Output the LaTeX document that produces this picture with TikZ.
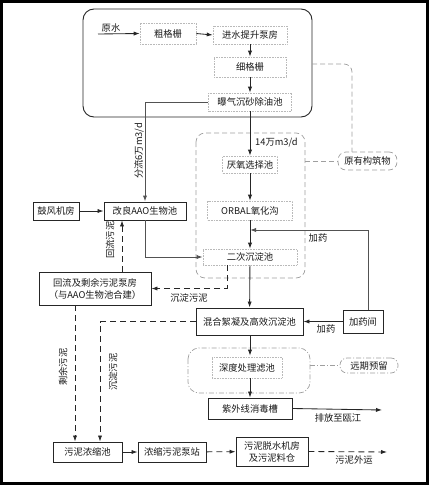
\documentclass[tikz,border=0pt]{standalone}
\usepackage{fontspec}
\newfontfamily\cjk{Noto Sans CJK SC}
\usetikzlibrary{arrows.meta,calc}
\begin{document}
\begin{tikzpicture}[x=1pt,y=-1pt,
  every node/.style={font=\cjk\fontsize{9.3}{12}\selectfont, inner sep=0pt, text=black!90},
  dotbox/.style={draw=gray!55, densely dotted, line width=0.6pt},
  solidbox/.style={draw=black!85, line width=0.9pt},
  ln/.style={line width=0.85pt, draw=black!85},
  gln/.style={line width=1pt, draw=black!68},
  arr/.style={ln, -{Latex[length=6pt,width=4.2pt]}},
  garr/.style={gln, -{Latex[length=6pt,width=4.2pt]}},
  dsh/.style={dash pattern=on 6pt off 4pt},
  region/.style={draw=gray!75, line width=0.7pt, dash pattern=on 5pt off 3pt},
  dotdash/.style={draw=gray!75, line width=0.7pt, dash pattern=on 5pt off 2pt on 1pt off 2pt},
  lbl/.style={font=\cjk\fontsize{9.3}{12}\selectfont}]
\useasboundingbox (0,0) rectangle (429,485);
\draw[line width=2.6pt, black] (1.3,1.3) rectangle (427.7,483.7);

% top block
\draw[line width=0.9pt, black!85, rounded corners=11pt] (83,9) rectangle (312,117);
% regions
\draw[region, rounded corners=9pt] (196,133) rectangle (305,278);
\draw[dotdash, rounded corners=11pt] (188,348) rectangle (310,393);

% nodes
\coordinate (src) at (98,34);
\node[lbl] (yuanshui) at (111,27.5) {原水};
\node[dotbox, minimum width=56pt, minimum height=21pt] (cgs) at (168,33.5) {粗格栅};
\node[dotbox, minimum width=74pt, minimum height=18pt] (jsts) at (250,35) {进水提升泵房};
\node[dotbox, minimum width=72pt, minimum height=20pt] (xgs) at (250,67) {细格栅};
\node[dotbox, minimum width=83pt, minimum height=18pt] (bqcs) at (250,102) {曝气沉砂除油池};
\node[dotbox, minimum width=55pt, minimum height=17pt] (yyxz) at (250,164.5) {厌氧选择池};
\node[dotbox, minimum width=85pt, minimum height=19pt] (orbal) at (250,210.5) {ORBAL氧化沟};
\node[dotbox, minimum width=94pt, minimum height=16pt] (ecc) at (250,257) {二次沉淀池};
\node[solidbox, minimum width=107pt, minimum height=27pt] (hhxn) at (249.5,321.5) {混合絮凝及高效沉淀池};
\node[solidbox, minimum width=40pt, minimum height=23pt] (jyj) at (363,321.5) {加药间};
\node[dotbox, minimum width=70pt, minimum height=21pt] (sdcl) at (247,367.5) {深度处理滤池};
\node[solidbox, minimum width=84pt, minimum height=21pt] (zwx) at (250,408.5) {紫外线消毒槽};
\node[solidbox, minimum width=82pt, minimum height=18pt] (aao) at (145,211) {改良AAO生物池};
\node[solidbox, minimum width=46pt, minimum height=18pt] (gfjf) at (56,211) {鼓风机房};
\node[solidbox, minimum width=112pt, minimum height=33pt, align=center] (hl) at (95,288.5) {回流及剩余污泥泵房\\（与AAO生物池合建）};
\node[solidbox, minimum width=69pt, minimum height=20pt] (wnns) at (87.5,452) {污泥浓缩池};
\node[solidbox, minimum width=68pt, minimum height=20pt] (nsbz) at (172,452) {浓缩污泥泵站};
\node[solidbox, minimum width=72pt, minimum height=29pt, align=center] (tsjf) at (272,451.5) {污泥脱水机房\\及污泥料仓};
\node[draw=gray!75, line width=0.7pt, dash pattern=on 5pt off 3pt, rounded corners=8pt, minimum width=59pt, minimum height=18pt] (yygzw) at (367.5,161) {原有构筑物};
\node[dotdash, rounded corners=7pt, minimum width=58pt, minimum height=15pt] (yqyl) at (369,365.5) {远期预留};

% coordinates
\coordinate (j1) at (250,230);
\coordinate (out1) at (382,410);
\coordinate (out2) at (387,452);

% main flow
\draw[arr] (src) -- (cgs.west);
\draw[arr] (cgs.east) -- (jsts.west);
\draw[arr] (jsts) -- (xgs);
\draw[arr] (xgs) -- (bqcs);
\draw[garr] (bqcs.west) -| (aao.north);
\node[lbl, rotate=90] (fenliu) at (139,151) {分流6万m3/d};
\draw[arr] (bqcs) -- (yyxz);
\node[lbl, anchor=west] (q14) at (255,143) {14万m3/d};
\draw[arr] (yyxz) -- (orbal);
\draw[arr] (orbal) -- (ecc);
\draw[garr] ([xshift=5pt]jyj.north) |- (j1);
\node[lbl] (jy1) at (318,238) {加药};
\draw[garr] (aao.south) |- (ecc.west);
\draw[arr] (gfjf) -- (aao);
\draw[arr, dsh] ($(hl.north)+(27,0)$) -- ($(aao.south)+(-23,0)$);
\node[lbl, rotate=90] (hlwn) at (110,240) {回流污泥};
\draw[arr, dsh] ($(ecc.south)+(-23,0)$) |- (hl.east);
\node[lbl] (cdwn1) at (189,297.5) {沉淀污泥};
\draw[arr] (ecc) -- (hhxn);
\draw[arr] (jyj) -- (hhxn);
\node[lbl] (jy2) at (326,329) {加药};
\draw[arr, dsh] (hhxn.west) -| ($(wnns.north)+(12.5,0)$);
\draw[arr, dsh] ($(hl.south)+(-20,0)$) -- ($(wnns.north)+(-12.5,0)$);
\node[lbl, rotate=90] (sywn) at (63,367) {剩余污泥};
\node[lbl, rotate=90] (cdwn2) at (113,372) {沉淀污泥};
\draw[arr] ($(hhxn.south)+(0.5,0)$) -- ($(sdcl.north)+(3,-1)$);
\draw[arr] ($(sdcl.south)+(3,0)$) -- (zwx.north);
\draw[dotdash] (310,365.5) -- (yqyl.west);
\draw[region, rounded corners=8pt] (312,64) -- (352,64) -- (352,152);
\draw[region] (305,161) -- (yygzw.west);
\draw[arr] (zwx.east) -- (out1);
\node[lbl] (pf) at (338,418) {排放至瓯江};
\draw[arr] (wnns) -- (nsbz);
\draw[arr, dsh] (nsbz) -- (tsjf);
\draw[arr, dsh] (tsjf.east) -- (out2);
\node[lbl] (wnwy) at (354,459.5) {污泥外运};
\end{tikzpicture}
\end{document}
